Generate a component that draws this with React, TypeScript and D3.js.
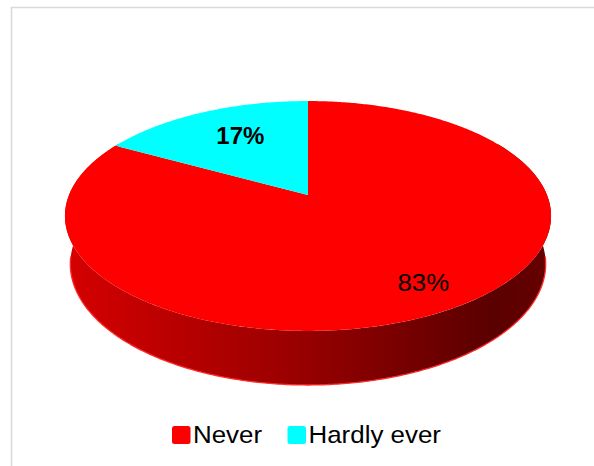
import React from "react";
import * as d3 from "d3";

const categories = ["Never", "Hardly ever"];
const values = [83, 17];
const labels = ["83%", "17%"];
const colors = ["#ff0000", "#00ffff"];

const W = 594;
const H = 466;

// perspective projection of a unit-radius pie
const CX = 308;
const CY = 195;
const F = 1159;
const D = 4.85;
const SIN = 0.465;
const COS = 0.885;
const DEPTH = 0.2287;

function proj(a: number, r: number, y: number): [number, number] {
  const u = r * Math.sin(a);
  const v = r * Math.cos(a);
  const depth = D + v * COS - y * SIN;
  return [CX + (F * u) / depth, CY - (F * (v * SIN + y * COS)) / depth];
}

export default function App() {
  const pie = d3.pie<number>().sort(null).startAngle(0).endAngle(2 * Math.PI);
  const arcs = pie(values);
  const line = d3.line();

  const sample = (a0: number, a1: number, y: number) => {
    const n = Math.max(2, Math.ceil(Math.abs(a1 - a0) / 0.01));
    return d3.range(n + 1).map((i) => proj(a0 + ((a1 - a0) * i) / n, 1, y));
  };

  // outer wall (front part)
  const s0 = Math.PI / 3;
  const s1 = (5 * Math.PI) / 3;
  const wallPts = [...sample(s0, s1, 0), ...sample(s1, s0, -DEPTH)];
  const bottomEdge = sample(Math.PI / 2 + 0.12, (3 * Math.PI) / 2 - 0.12, -DEPTH);

  const labelR = [0.8, 0.6];
  const labelNudge = [[4, 0], [-1, -7]];
  const labelStyle = [
    { fontWeight: "normal", size: 23.5, sx: 1.1 },
    { fontWeight: "bold", size: 24, sx: 1 },
  ];

  const legendX = [172, 287.5];

  return (
    <svg
      width={W}
      height={H}
      style={{ position: "absolute", left: 0, top: 0, background: "#fff" }}
      fontFamily="Arial, 'Liberation Sans', sans-serif"
    >
      <defs>
        <linearGradient id="wall" gradientUnits="userSpaceOnUse" x1={65} x2={550} y1={0} y2={0}>
          <stop offset="0" stopColor="#d60000" />
          <stop offset="0.5" stopColor="#960000" />
          <stop offset="0.88" stopColor="#5a0000" />
          <stop offset="1" stopColor="#660000" />
        </linearGradient>
      </defs>
      <rect x={11.5} y={7.5} width={620} height={500} fill="none" stroke="#d9d9d9" strokeWidth={1.5} />
      <path d={line(wallPts as [number, number][]) + "Z"} fill="url(#wall)" />
      <path d={line(bottomEdge as [number, number][]) ?? ""} fill="none" stroke="#ff2a2a" strokeWidth={1.3} />
      {arcs.map((a, i) => {
        const pts = [proj(0, 0, 0), ...sample(a.startAngle, a.endAngle, 0)];
        return <path key={i} d={line(pts as [number, number][]) + "Z"} fill={colors[i]} />;
      })}
      {arcs.map((a, i) => {
        const mid = (a.startAngle + a.endAngle) / 2;
        const [x, y] = proj(mid, labelR[i], 0);
        const st = labelStyle[i];
        const lx = x + labelNudge[i][0];
        const ly = y + labelNudge[i][1];
        return (
          <text
            key={i}
            transform={`translate(${lx},${ly}) scale(${st.sx},1)`}
            textAnchor="middle"
            dy="0.35em"
            fontSize={st.size}
            fontWeight={st.fontWeight}
            fill="#000"
          >
            {labels[i]}
          </text>
        );
      })}
      {categories.map((c, i) => (
        <g key={c} transform={`translate(${legendX[i]},426)`}>
          <rect x={0} y={0} width={18.5} height={18} rx={2.5} fill={colors[i]} />
          <text transform="translate(21,17.3) scale(1.08,1)" fontSize={24} fill="#000">
            {c}
          </text>
        </g>
      ))}
    </svg>
  );
}
